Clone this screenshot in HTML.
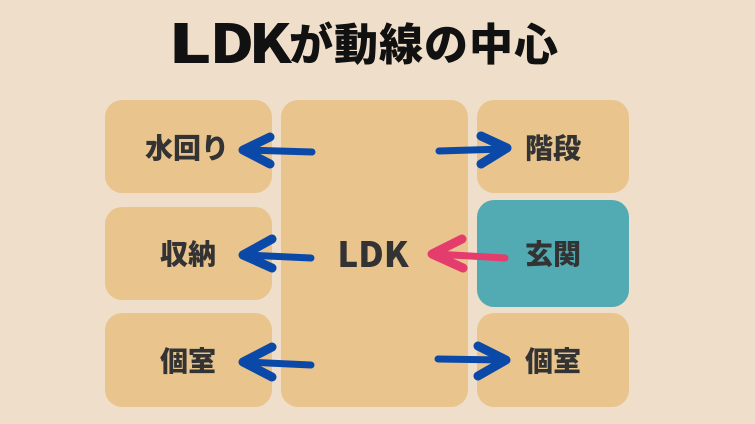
<!DOCTYPE html>
<html><head><meta charset="utf-8"><style>
html,body{margin:0;padding:0;}
body{width:755px;height:424px;background:#efdfca;position:relative;overflow:hidden;}
.box{position:absolute;background:#e9c48d;border-radius:17px;}
.teal{background:#52abb2;}
.lbl{position:absolute;font-family:"Noto Sans CJK JP",sans-serif;font-weight:900;font-size:28px;line-height:28px;color:#333;text-align:center;white-space:nowrap;}
.t{position:absolute;white-space:nowrap;color:#111;}
.L{position:absolute;top:13px;width:36px;height:54px;font-family:"Noto Sans CJK JP",sans-serif;font-weight:900;font-size:54px;line-height:54px;color:#111;text-align:center;transform:scaleX(1.12);}
</style></head><body>
<div class="L" style="left:172px;transform:scaleX(1.35);">L</div>
<div class="L" style="left:212px;">D</div>
<div class="L" style="left:251px;">K</div>
<div class="t" style="left:289px;top:19px;font-family:'Noto Sans CJK JP',sans-serif;font-weight:900;font-size:44px;line-height:44px;letter-spacing:1px;">が動線の中心</div>

<div class="box" style="left:105px;top:100px;width:167px;height:93px;"></div>
<div class="box" style="left:281px;top:100px;width:187px;height:307px;"></div>
<div class="box" style="left:477px;top:100px;width:152px;height:93px;"></div>
<div class="box" style="left:105px;top:207px;width:167px;height:93px;"></div>
<div class="box teal" style="left:477px;top:200px;width:152px;height:107px;"></div>
<div class="box" style="left:105px;top:313px;width:167px;height:94px;"></div>
<div class="box" style="left:477px;top:313px;width:152px;height:94px;"></div>

<div class="lbl" style="left:105px;width:164px;top:133px;">水回り</div>
<div class="lbl" style="left:477px;width:152px;top:133px;">階段</div>
<div class="lbl" style="left:105px;width:166px;top:239px;">収納</div>
<div class="lbl" style="left:477px;width:152px;top:239px;">玄関</div>
<div class="lbl" style="left:105px;width:166px;top:346px;">個室</div>
<div class="lbl" style="left:477px;width:152px;top:346px;">個室</div>
<div class="t" style="left:335px;top:235px;width:76px;text-align:center;font-family:'Noto Sans CJK JP',sans-serif;font-weight:900;font-size:35px;line-height:35px;color:#333;">LDK</div>

<svg width="755" height="424" style="position:absolute;left:0;top:0;" fill="none" stroke-linecap="round" stroke-linejoin="round">
<g stroke="#0b49a9" stroke-width="7">
<path d="M312,152 L247,150"/><path d="M270,137 L243,150 L270,164" stroke-width="9"/>
<path d="M439,151 L504,149"/><path d="M481,136 L507,148 L481,164" stroke-width="9"/>
<path d="M311,258 L247,255"/><path d="M272,239 L243,255 L272,268" stroke-width="9"/>
<path d="M311,365 L247,362"/><path d="M272,347 L243,362 L272,377" stroke-width="9"/>
<path d="M438,359 L503,360"/><path d="M478,346 L506,360 L478,376" stroke-width="9"/>
</g>
<g stroke="#e43c6d" stroke-width="7">
<path d="M505,258 L435,254"/><path d="M462,239 L432,254 L463,268" stroke-width="9"/>
</g>
</svg>
</body></html>
